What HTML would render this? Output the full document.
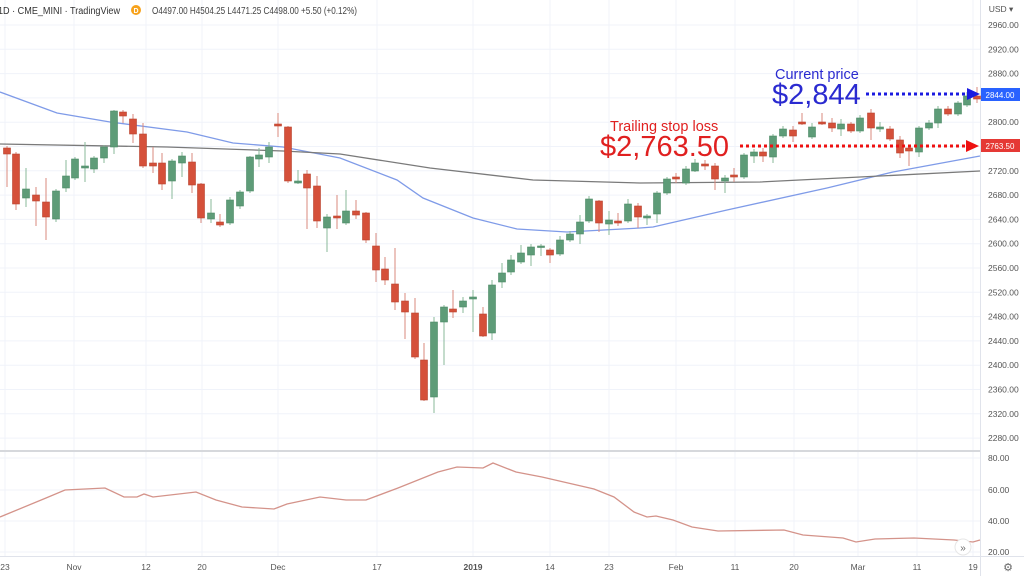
<!DOCTYPE html>
<html><head><meta charset="utf-8"><style>
html,body{margin:0;padding:0;background:#fff;width:1024px;height:576px;overflow:hidden;font-family:"Liberation Sans",sans-serif}
svg{position:absolute;left:0;top:0}
</style></head><body>
<svg id="s" width="1024" height="576" xmlns="http://www.w3.org/2000/svg" font-family="Liberation Sans, sans-serif">
<g id="grid" stroke="#f0f3fa" stroke-width="1"></g>
<line x1="0" y1="451" x2="980" y2="451" stroke="#d6d8dc" stroke-width="2"/>
<line x1="980.5" y1="0" x2="980.5" y2="576" stroke="#e0e3eb"/>
<line x1="0" y1="556.5" x2="1024" y2="556.5" stroke="#e0e3eb"/>
<polyline fill="none" stroke="#7f9be8" stroke-width="1.3" points="0,92 57,113 110,122 187,132 233,143 283,147 340,158 397,180 423,198 473,218 517,229 567,232 640,228 653,227 727,210 827,188 893,172 980,156"/>
<polyline fill="none" stroke="#7a7a7a" stroke-width="1.3" points="0,144 167,147 283,151 340,154 430,168 533,180 640,183 760,182 860,177 980,171"/>
<g id="c"></g>
<polyline fill="none" stroke="#d4938a" stroke-width="1.3" points="0,517 46,498 65,490 105,488 124,497 137,497 144,494 153,497 196,492 216,500 242,507 274,509 287,504 320,497 346,500 366,500 398,488 438,472 457,467 483,468 493,463 516,472 542,477 568,483 594,489 614,497 634,512 647,517 656,516 673,520 692,527 718,531 784,530 803,535 843,538 856,542 875,539 914,538 954,540 973,542 980,540"/>
<circle cx="963" cy="547" r="8" fill="#fff" stroke="#e6e6e6"/>
<text x="963" y="551" font-size="10" fill="#666" text-anchor="middle">»</text>
<g id="ax" font-size="8.5" fill="#555"></g>
<text x="-2" y="14" font-size="10" fill="#333" textLength="122" lengthAdjust="spacingAndGlyphs">1D · CME_MINI · TradingView</text>
<circle cx="136" cy="10" r="5" fill="#f7a21b"/>
<text x="136" y="13" font-size="7" fill="#fff" text-anchor="middle" font-weight="bold">D</text>
<text x="152" y="14" font-size="10" fill="#444" textLength="205" lengthAdjust="spacingAndGlyphs">O4497.00 H4504.25 L4471.25 C4498.00 +5.50 (+0.12%)</text>
<text x="1001" y="12" font-size="8.5" fill="#555" text-anchor="middle">USD ▾</text>
<line x1="866" y1="94" x2="968" y2="94" stroke="#1a1ae0" stroke-width="3" stroke-dasharray="3,3"/>
<polygon points="967,88 980,94 967,100" fill="#1a1ae0"/>
<line x1="740" y1="146" x2="966" y2="146" stroke="#ee1111" stroke-width="3" stroke-dasharray="3,3"/>
<polygon points="966,140 979,146 966,152" fill="#ee1111"/>
<text x="775" y="79" font-size="14.5" fill="#2a2ad0">Current price</text>
<text x="772" y="104" font-size="29" fill="#2a2ad0">$2,844</text>
<text x="610" y="131" font-size="14.5" fill="#e02020">Trailing stop loss</text>
<text x="600" y="156" font-size="29" fill="#e02020">$2,763.50</text>
<rect x="981" y="88" width="39" height="13" fill="#2962ff"/>
<text x="1000" y="98" font-size="8" fill="#fff" text-anchor="middle">2844.00</text>
<rect x="981" y="139" width="39" height="13" fill="#e53935"/>
<text x="1000" y="149" font-size="8" fill="#fff" text-anchor="middle">2763.50</text>
<text x="1008" y="571" font-size="11" fill="#666" text-anchor="middle">⚙</text>
</svg>
<script>
var NS="http://www.w3.org/2000/svg";
function el(p,t,a){var e=document.createElementNS(NS,t);for(var k in a)e.setAttribute(k,a[k]);p.appendChild(e);return e;}
var g=document.getElementById('grid'),ax=document.getElementById('ax'),c=document.getElementById('c');
for(var p=2960;p>=2280;p-=40){var y=25+(2960-p)*0.6075;el(g,'line',{x1:0,y1:y,x2:980,y2:y});var t=el(ax,'text',{x:988,y:y+3});t.textContent=p.toFixed(2);}
[[80,458],[60,490],[40,521],[20,552]].forEach(function(a){el(g,'line',{x1:0,y1:a[1],x2:980,y2:a[1]});var t=el(ax,'text',{x:988,y:a[1]+3});t.textContent=a[0].toFixed(2);});
var dates=[["23",5],["Nov",74],["12",146],["20",202],["Dec",278],["17",377],["2019",473],["14",550],["23",609],["Feb",676],["11",735],["20",794],["Mar",858],["11",917],["19",973]];
dates.forEach(function(d){el(g,'line',{x1:d[1],y1:0,x2:d[1],y2:556});var t=el(ax,'text',{x:d[1],y:570,'text-anchor':'middle'});t.textContent=d[0];if(d[0]=="2019")t.setAttribute('font-weight','bold');});
var C=[[7,148,154,146,187,0],[16,154,204,152,210,0],[26,189,198,168,207,1],[36,195,201,187,226,0],[46,202,217,178,240,0],[56,191,219,189,222,1],[66,176,188,160,192,1],[75,159,178,157,180,1],[85,166,168,142,182,1],[94,158,169,156,173,1],[104,147,158,145,163,1],[114,111,147,110,154,1],[123,112,116,110,123,0],[133,119,134,114,143,0],[143,134,166,123,168,0],[153,163,166,147,173,0],[162,163,184,153,190,0],[172,161,181,159,199,1],[182,156,163,152,177,1],[192,162,185,153,193,0],[201,184,218,183,223,0],[211,213,219,199,223,1],[220,222,225,214,227,0],[230,200,223,197,225,1],[240,192,206,190,209,1],[250,157,191,156,193,1],[259,155,159,148,167,1],[269,147,157,142,163,1],[278,124,126,113,137,0],[288,127,181,126,183,0],[298,181,183,170,184,1],[307,174,188,170,229,0],[317,186,221,176,228,0],[327,217,228,214,252,1],[337,216,218,195,229,0],[346,211,223,190,225,1],[356,211,215,200,219,0],[366,213,240,212,243,0],[376,246,270,233,282,0],[385,269,280,257,285,0],[395,284,302,248,310,0],[405,301,312,293,339,0],[415,313,357,298,359,0],[424,360,400,343,401,0],[434,322,397,317,413,1],[444,307,322,305,365,1],[453,309,312,290,318,0],[463,301,307,297,313,1],[473,297,299,290,332,1],[483,314,336,307,337,0],[492,285,333,280,340,1],[502,273,282,263,288,1],[511,260,272,255,275,1],[521,253,262,245,264,1],[531,247,255,244,266,1],[541,246,247,244,256,1],[550,250,255,248,263,0],[560,240,254,236,256,1],[570,234,240,231,242,1],[580,222,234,215,244,1],[589,199,221,196,223,1],[599,201,223,200,232,0],[609,220,224,211,235,1],[618,221,223,213,226,0],[628,204,221,199,223,1],[638,206,217,203,228,0],[647,216,218,214,225,1],[657,193,214,191,223,1],[667,179,193,177,195,1],[676,177,179,173,183,0],[686,169,183,166,185,1],[695,163,171,159,172,1],[705,164,166,160,170,0],[715,166,179,163,190,0],[725,178,181,175,193,1],[734,175,177,168,182,0],[744,155,177,153,179,1],[754,152,156,149,163,1],[763,152,156,148,162,0],[773,136,157,134,163,1],[783,129,136,126,138,1],[793,130,136,126,142,0],[802,122,124,113,125,0],[812,127,137,123,139,1],[822,122,124,113,125,0],[832,123,128,118,132,0],[841,124,129,119,136,1],[851,124,131,122,133,0],[860,118,131,115,133,1],[871,113,128,109,140,0],[880,127,129,122,132,1],[890,129,139,126,141,0],[900,140,153,136,158,0],[909,148,151,146,166,0],[919,128,152,126,157,1],[929,123,128,120,130,1],[938,109,123,106,128,1],[948,109,114,106,116,0],[958,103,114,101,116,1],[967,96,105,92,107,1],[977,96,99,87,103,0]];
C.forEach(function(k){var col=k[5]?'#5e9c78':'#d5503a',wc=k[5]?'#88b89a':'#d98a7e';
el(c,'line',{x1:k[0],y1:k[3],x2:k[0],y2:k[4],stroke:wc,'stroke-width':1});
var h=Math.max(1.5,k[2]-k[1]);el(c,'rect',{x:k[0]-3.5,y:k[1],width:7,height:h,fill:col,stroke:k[5]?'#4d8a66':'#b8432f','stroke-width':0.6});});
</script>
</body></html>
